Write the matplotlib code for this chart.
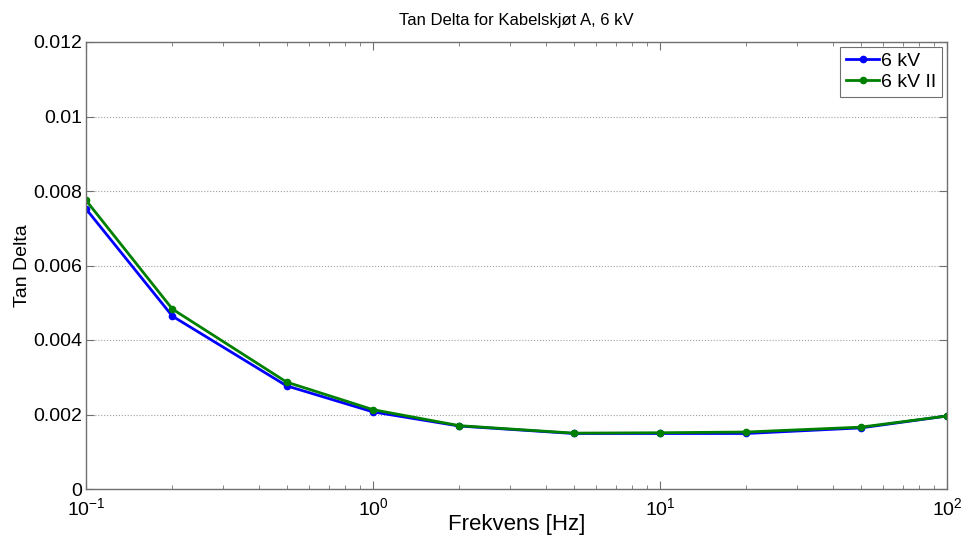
import numpy as np
import matplotlib
matplotlib.use("Agg")
import matplotlib.pyplot as plt

freq = [0.1, 0.2, 0.5, 1, 2, 5, 10, 20, 50, 100]
tan_6kv = [0.00752, 0.00464, 0.00277, 0.00207, 0.00169, 0.00149, 0.00149, 0.00149, 0.00164, 0.00196]
tan_6kv_2 = [0.00775, 0.00483, 0.00287, 0.00213, 0.00170, 0.00150, 0.00151, 0.00153, 0.00166, 0.00196]
yticks = [0, 0.002, 0.004, 0.006, 0.008, 0.01, 0.012]
yticklabels = ['0', '0.002', '0.004', '0.006', '0.008', '0.01', '0.012']

plt.rcParams['font.family'] = ['Liberation Sans', 'DejaVu Sans']
plt.rcParams['mathtext.fontset'] = 'custom'
plt.rcParams['mathtext.rm'] = 'Liberation Sans'

fig = plt.figure(figsize=(9.66, 5.39), dpi=100)
ax = fig.add_axes([86/966, 1-489/539, (947-86)/966, (489-42)/539])

ax.plot(freq, tan_6kv, '-', color='#0000ff', marker='.', markersize=9, lw=2, label='6 kV')
ax.plot(freq, tan_6kv_2, '-', color='#008000', marker='.', markersize=9, lw=2, label='6 kV II')

ax.set_xscale('log')
ax.set_xlim(0.1, 100)
ax.set_ylim(0, 0.012)
ax.set_yticks(yticks)
ax.set_yticklabels(yticklabels)
ax.yaxis.grid(True, linestyle=':', color='#a0a0a0', lw=0.8)
ax.tick_params(which='both', direction='in', top=True, right=True, labelsize=14, colors='#000000')
ax.tick_params(which='major', length=6)
ax.tick_params(which='minor', length=3)
ax.tick_params(axis='x', which='major', pad=6)
ax.tick_params(axis='y', which='major', pad=3)
for s in ax.spines.values():
    s.set_color('#707070')
    s.set_linewidth(1)
ax.tick_params(which='both', color='#707070')

ax.set_title('Tan Delta for Kabelskjøt A, 6 kV', fontsize=12, pad=12)
ax.set_xlabel('Frekvens [Hz]', fontsize=16)
ax.xaxis.set_label_coords(0.5, -0.055)
ax.set_ylabel('Tan Delta', fontsize=14, labelpad=1)

leg = ax.legend(loc='upper right', fontsize=14, fancybox=False, edgecolor='#707070',
                borderaxespad=0.25, handlelength=1.7, handletextpad=0.1, borderpad=0.3,
                labelspacing=0.15, framealpha=1)
leg.get_frame().set_linewidth(0.8)

fig.savefig('out.png', dpi=100)
